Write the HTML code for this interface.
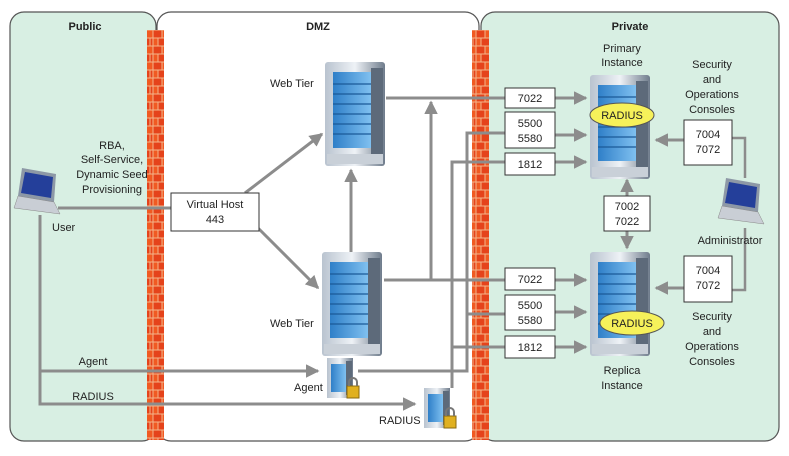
<!DOCTYPE html>
<html><head><meta charset="utf-8"><style>
html,body{margin:0;padding:0;background:#fff}
svg{display:block}
text{font-family:"Liberation Sans",sans-serif;font-size:11px;fill:#222}
</style></head><body>
<svg width="789" height="456" viewBox="0 0 789 456" xmlns="http://www.w3.org/2000/svg">
<defs>
<pattern id="brick" x="0" y="30" width="17" height="16" patternUnits="userSpaceOnUse">
<rect width="17" height="16" fill="#f3b48a"/>
<rect x="0.5" y="0.5" width="8" height="7" fill="#e5431b"/>
<rect x="9.5" y="0.5" width="7" height="7" fill="#f05a22"/>
<rect x="0.5" y="8.5" width="4" height="7" fill="#f05a22"/>
<rect x="5.5" y="8.5" width="8" height="7" fill="#e5431b"/>
<rect x="14.5" y="8.5" width="2" height="7" fill="#e5431b"/>
</pattern>
<linearGradient id="srv" x1="0" x2="1"><stop offset="0" stop-color="#b9c3cf"/><stop offset="0.5" stop-color="#eef2f6"/><stop offset="1" stop-color="#6f7c8c"/></linearGradient>
<linearGradient id="blu" x1="0" x2="1"><stop offset="0" stop-color="#2f7fc8"/><stop offset="1" stop-color="#7fc0f0"/></linearGradient>
<marker id="ah" markerWidth="4.5" markerHeight="4.5" refX="4" refY="2.25" orient="auto" markerUnits="strokeWidth"><path d="M0,0 L4.5,2.25 L0,4.5 z" fill="#8c8c8c"/></marker>
<g id="server">
<rect x="0" y="0" width="60" height="104" fill="url(#srv)" rx="3"/>
<rect x="8" y="10" width="38" height="76" fill="url(#blu)"/>
<g stroke="#1b5a98" stroke-width="1.2">
<line x1="8" y1="22" x2="46" y2="22"/><line x1="8" y1="32" x2="46" y2="32"/><line x1="8" y1="42" x2="46" y2="42"/><line x1="8" y1="52" x2="46" y2="52"/><line x1="8" y1="62" x2="46" y2="62"/><line x1="8" y1="72" x2="46" y2="72"/></g>
<rect x="46" y="6" width="12" height="86" fill="#5d6a7a"/>
<rect x="2" y="92" width="56" height="10" fill="#c9d0d8"/>
</g>
<g id="small">
<rect x="0" y="0" width="26" height="40" fill="url(#srv)"/>
<rect x="4" y="6" width="15" height="28" fill="url(#blu)"/>
<rect x="19" y="3" width="6" height="34" fill="#5d6a7a"/>
<rect x="20" y="28" width="12" height="12" fill="#e0b020" stroke="#8a6a10"/>
<path d="M22,28 v-4 a4,4 0 0 1 8,0 v4" fill="none" stroke="#777" stroke-width="2"/>
</g>
<g id="laptop">
<path d="M8,0 L42,6 L40,34 L4,28 z" fill="#8d98a6"/>
<path d="M11,4 L39,9 L37,30 L7,25 z" fill="#243f9a"/>
<path d="M4,28 L40,34 L46,46 L0,40 z" fill="#c9ced5" stroke="#888" stroke-width="0.5"/>
</g>
</defs>

<rect x="10" y="12" width="146" height="429" rx="14" fill="#d8efe3" stroke="#555" stroke-width="1.2"/>
<rect x="157" y="12" width="322" height="429" rx="14" fill="#fff" stroke="#555" stroke-width="1.2"/>
<rect x="481" y="12" width="298" height="429" rx="14" fill="#d8efe3" stroke="#555" stroke-width="1.2"/>
<rect x="147" y="30" width="17" height="410" fill="url(#brick)"/>
<rect x="472" y="30" width="17" height="410" fill="url(#brick)"/>

<text x="85" y="30" text-anchor="middle" font-weight="bold">Public</text>
<text x="318" y="30" text-anchor="middle" font-weight="bold">DMZ</text>
<text x="630" y="30" text-anchor="middle" font-weight="bold">Private</text>

<g stroke="#8c8c8c" stroke-width="3" fill="none">
<line x1="58" y1="208" x2="171" y2="208"/>
<polyline points="40,215 40,404 415,404" marker-end="url(#ah)"/>
<line x1="40" y1="371" x2="318" y2="371" marker-end="url(#ah)"/>
<line x1="245" y1="193" x2="322" y2="134" marker-end="url(#ah)"/>
<line x1="258" y1="228" x2="318" y2="288" marker-end="url(#ah)"/>
<line x1="351" y1="252" x2="351" y2="170" marker-end="url(#ah)"/>
<line x1="386" y1="98" x2="505" y2="98"/>
<line x1="555" y1="98" x2="586" y2="98" marker-end="url(#ah)"/>
<line x1="431" y1="280" x2="431" y2="102" marker-end="url(#ah)"/>
<line x1="384" y1="280" x2="505" y2="280"/>
<line x1="555" y1="280" x2="586" y2="280" marker-end="url(#ah)"/>
<polyline points="358,371 467,371 467,133 505,133"/>
<line x1="467" y1="314" x2="505" y2="314"/>
<polyline points="452,388 452,162 505,162"/>
<line x1="452" y1="347" x2="505" y2="347"/>
<line x1="555" y1="135" x2="586" y2="135" marker-end="url(#ah)"/>
<line x1="555" y1="162" x2="586" y2="162" marker-end="url(#ah)"/>
<line x1="555" y1="312" x2="586" y2="312" marker-end="url(#ah)"/>
<line x1="555" y1="347" x2="586" y2="347" marker-end="url(#ah)"/>
<line x1="627" y1="196" x2="627" y2="180" marker-end="url(#ah)"/>
<line x1="627" y1="231" x2="627" y2="248" marker-end="url(#ah)"/>
<line x1="684" y1="140" x2="656" y2="140" marker-end="url(#ah)"/>
<line x1="684" y1="288" x2="656" y2="288" marker-end="url(#ah)"/>
<polyline points="732,138 745,138 745,178" stroke-width="2.5"/>
<polyline points="745,228 745,290 732,290" stroke-width="2.5"/>
</g>

<use href="#server" x="325" y="62"/>
<use href="#server" x="322" y="252"/>
<use href="#server" x="590" y="75"/>
<use href="#server" x="590" y="252"/>
<use href="#small" x="327" y="358"/>
<use href="#small" x="424" y="388"/>
<use href="#laptop" x="14" y="168"/>
<use href="#laptop" x="718" y="178"/>

<ellipse cx="622" cy="115" rx="32" ry="12" fill="#f6f15a" stroke="#555"/>
<text x="622" y="119" text-anchor="middle">RADIUS</text>
<ellipse cx="632" cy="323" rx="32" ry="12" fill="#f6f15a" stroke="#555"/>
<text x="632" y="327" text-anchor="middle">RADIUS</text>

<g fill="#fff" stroke="#333" stroke-width="1">
<rect x="171" y="193" width="88" height="38"/>
<rect x="505" y="88" width="50" height="20"/>
<rect x="505" y="112" width="50" height="36"/>
<rect x="505" y="153" width="50" height="22"/>
<rect x="604" y="196" width="46" height="35"/>
<rect x="684" y="120" width="48" height="45"/>
<rect x="505" y="268" width="50" height="22"/>
<rect x="505" y="295" width="50" height="35"/>
<rect x="505" y="336" width="50" height="22"/>
<rect x="684" y="256" width="48" height="46"/>
</g>
<g text-anchor="middle">
<text x="215" y="208">Virtual Host</text><text x="215" y="223">443</text>
<text x="530" y="102">7022</text>
<text x="530" y="127">5500</text><text x="530" y="142">5580</text>
<text x="530" y="168">1812</text>
<text x="627" y="210">7002</text><text x="627" y="225">7022</text>
<text x="708" y="138">7004</text><text x="708" y="153">7072</text>
<text x="530" y="283">7022</text>
<text x="530" y="309">5500</text><text x="530" y="324">5580</text>
<text x="530" y="351">1812</text>
<text x="708" y="274">7004</text><text x="708" y="289">7072</text>
<text x="112" y="149">RBA,</text>
<text x="112" y="163">Self-Service,</text>
<text x="112" y="178">Dynamic Seed</text>
<text x="112" y="193">Provisioning</text>
<text x="622" y="52">Primary</text><text x="622" y="66">Instance</text>
<text x="712" y="68">Security</text><text x="712" y="83">and</text>
<text x="712" y="98">Operations</text><text x="712" y="113">Consoles</text>
<text x="730" y="244">Administrator</text>
<text x="712" y="320">Security</text><text x="712" y="335">and</text>
<text x="712" y="350">Operations</text><text x="712" y="365">Consoles</text>
<text x="622" y="374">Replica</text><text x="622" y="389">Instance</text>
<text x="93" y="365">Agent</text>
<text x="93" y="400">RADIUS</text>
</g>
<text x="270" y="87">Web Tier</text>
<text x="270" y="327">Web Tier</text>
<text x="52" y="231">User</text>
<text x="294" y="391">Agent</text>
<text x="379" y="424">RADIUS</text>
</svg>
</body></html>
